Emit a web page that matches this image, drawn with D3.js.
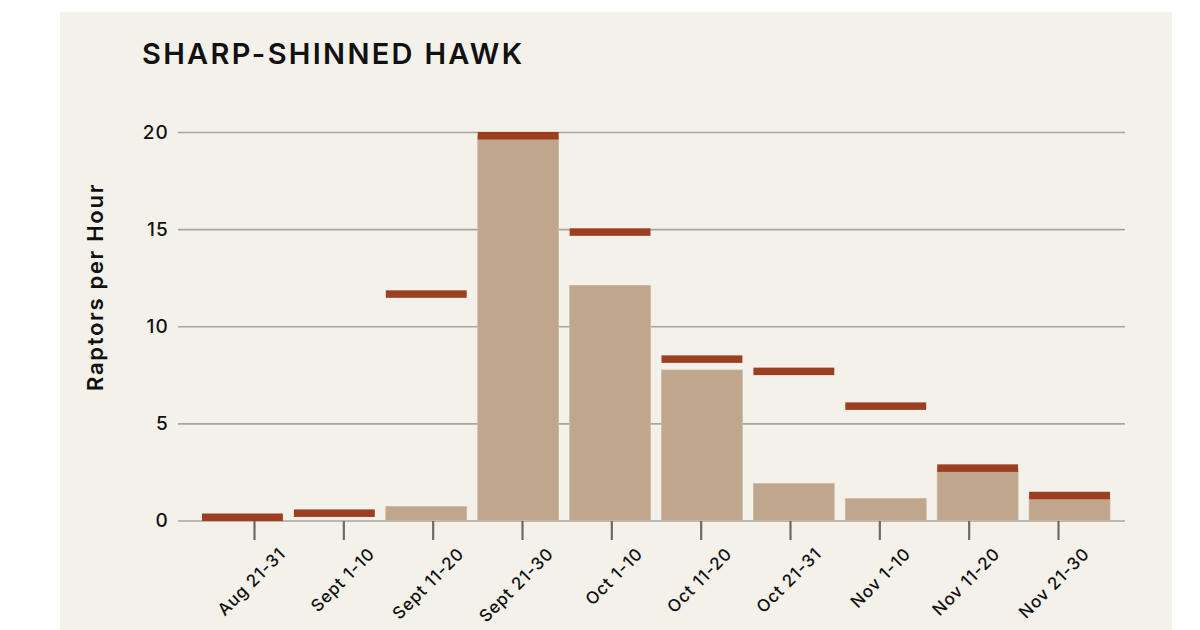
<!DOCTYPE html>
<html>
<head>
<meta charset="utf-8">
<script src="https://cdn.jsdelivr.net/npm/d3@7"></script>
<style>
  html, body { margin: 0; padding: 0; background: #ffffff; }
  svg { display: block; }
  text { font-family: Inter, "Open Sans", sans-serif; fill: #111; }
</style>
</head>
<body>
<svg id="chart" width="1200" height="630"></svg>
<script>
// ---- data ----
const categories = ["Aug 21-31", "Sept 1-10", "Sept 11-20", "Sept 21-30", "Oct 1-10",
                    "Oct 11-20", "Oct 21-31", "Nov 1-10", "Nov 11-20", "Nov 21-30"];
const barValues = [0, 0, 0.72, 19.8, 12.1, 7.75, 1.9, 1.13, 2.6, 1.2];
const markerValues = [0.36, 0.57, 11.85, 20.0, 15.04, 8.5, 7.87, 6.08, 2.89, 1.48];
const yTicks = [0, 5, 10, 15, 20];
const title = "SHARP-SHINNED HAWK";
const yLabel = "Raptors per Hour";

// ---- layout ----
const svg = d3.select("#chart");
svg.append("rect").attr("x", 60).attr("y", 12).attr("width", 1112).attr("height", 618)
   .attr("fill", "#f4f1ea");

const x = d3.scaleBand().domain(categories).range([196.5, 1115.5])
            .paddingInner(0.12).paddingOuter(0.06);
const xTick = d3.scalePoint().domain(categories).range([254, 1058]);
const y = d3.scaleLinear().domain([0, 20]).range([520.5, 132]);

// gridlines
const yAxis = d3.axisLeft(y).tickValues(yTicks).tickSize(-947).tickPadding(9).tickFormat(d3.format("d"));
const gy = svg.append("g").attr("transform", "translate(178,0)").call(yAxis);
gy.select(".domain").remove();
gy.selectAll(".tick line").attr("stroke", "#a9a59d").attr("stroke-width", 1.6);
gy.selectAll(".tick text").attr("font-size", 19).attr("font-weight", 500)
  .attr("letter-spacing", 1.2).attr("fill", "#111");

// bars
svg.append("g").selectAll("rect").data(categories).join("rect")
   .attr("x", d => x(d)).attr("width", x.bandwidth())
   .attr("y", (d, i) => y(barValues[i]))
   .attr("height", (d, i) => y(0) - y(barValues[i]))
   .attr("fill", "#bfa68c").attr("stroke", "#cdb9a4").attr("stroke-width", 0.8);

// markers
svg.append("g").selectAll("rect").data(categories).join("rect")
   .attr("x", d => x(d)).attr("width", x.bandwidth())
   .attr("y", (d, i) => y(markerValues[i]))
   .attr("height", 7.5)
   .attr("fill", "#9b3f20");

// x axis ticks
const xAxis = d3.axisBottom(xTick).tickSize(19).tickPadding(0);
const gx = svg.append("g").attr("transform", "translate(0,521)").call(xAxis);
gx.select(".domain").remove();
gx.selectAll(".tick line").attr("stroke", "#6e6a63").attr("stroke-width", 2.2);
gx.selectAll(".tick text")
  .attr("font-size", 17).attr("font-weight", 500).attr("fill", "#111")
  .attr("letter-spacing", 0.8)
  .attr("text-anchor", "end").attr("dy", 0).attr("y", 0)
  .attr("transform", "translate(32,34) rotate(-45)");

// title
svg.append("text").attr("x", 142).attr("y", 64).text(title)
   .attr("font-size", 29).attr("font-weight", 600).attr("letter-spacing", 2.3).attr("fill", "#111");

// y label
svg.append("text").attr("transform", "translate(103,287) rotate(-90)")
   .attr("text-anchor", "middle").attr("font-size", 22).attr("font-weight", 600)
   .attr("letter-spacing", 1.7).attr("fill", "#111").text(yLabel);
</script>
</body>
</html>
